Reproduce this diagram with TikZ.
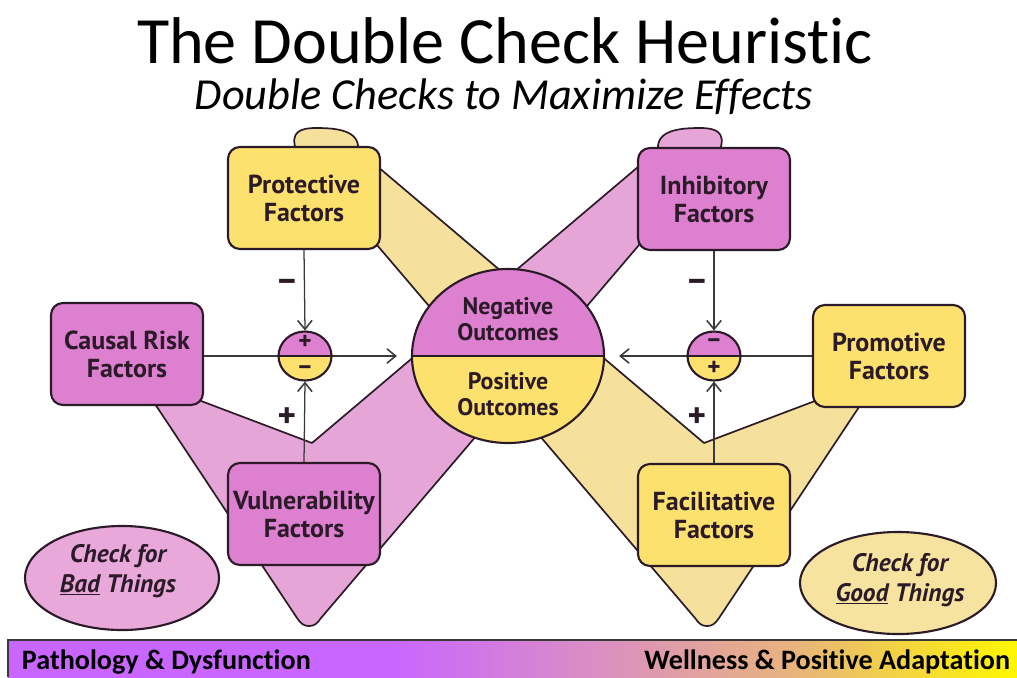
\documentclass[tikz,border=0pt]{standalone}
\usepackage{fontspec}
\setmainfont{Carlito}[Ligatures=NoCommon]
\newfontfamily\lblfont{PT Sans}
\usetikzlibrary{arrows.meta,shapes.geometric}

\definecolor{ink}{HTML}{2B1A28}
\definecolor{wire}{HTML}{3A3A3A}
\definecolor{magbox}{HTML}{DE80D0}
\definecolor{yelbox}{HTML}{FDE16E}
\definecolor{pinkband}{HTML}{E6A5D7}
\definecolor{yelband}{HTML}{F5E19B}
\definecolor{badoval}{HTML}{E8A8DA}
\definecolor{goodoval}{HTML}{F7E3A0}
\definecolor{barA}{HTML}{C966FF}
\definecolor{barB}{HTML}{DA8EC4}
\definecolor{barC}{HTML}{E8B47C}
\definecolor{barD}{HTML}{FFF700}
\pgfdeclarehorizontalshading{barshade}{100bp}{color(0bp)=(barA); color(25bp)=(barA); color(44bp)=(barA); color(54bp)=(barB); color(64bp)=(barC); color(75bp)=(barD); color(100bp)=(barD)}

\tikzset{
  factor/.style={draw=ink, line width=1.5pt, rounded corners=0.3cm, minimum width=3.8cm,
    minimum height=2.55cm, align=center, text=ink, font=\lblfont\bfseries\fontsize{18.5}{20}\selectfont},
  badbox/.style={factor, fill=magbox},
  goodbox/.style={factor, fill=yelbox},
  band/.style={draw=ink, line width=1.2pt, line join=round},
  conn/.style={draw=wire, line width=0.9pt, -{Straight Barb[length=2.2mm,width=3.6mm,line width=1.1pt]}},
  sign/.style={text=ink, inner sep=0pt, font=\lblfont\bfseries\fontsize{25}{25}\selectfont},
  insign/.style={text=ink, inner sep=0pt, font=\lblfont\bfseries\fontsize{18}{18}\selectfont},
  mixer/.style={ellipse, draw=ink, line width=1.5pt, minimum width=1.325cm, minimum height=1.225cm,
    inner sep=0pt, fill=yelbox, path picture={\fill[magbox] (path picture bounding box.north west) rectangle (path picture bounding box.east);}},
  ctext/.style={align=center, text=ink, font=\lblfont\bfseries\fontsize{17}{18.5}\selectfont},
  oval/.style={ellipse, draw=ink, line width=1.5pt},
  chk/.style={align=center, text=ink, font=\lblfont\bfseries\itshape\fontsize{18}{21}\selectfont},
  bartext/.style={text=black, font=\bfseries\fontsize{20}{20}\selectfont},
}

\begin{document}
\begin{tikzpicture}[x=0.025cm, y=-0.025cm]
    \useasboundingbox (0,0) rectangle (1017,677);

    % Titre
    \node[inner sep=0pt, font=\fontsize{47}{50}\selectfont] (title) at (505,41) {The Double Check Heuristic};
    \node[inner sep=0pt, font=\itshape\fontsize{31.5}{33}\selectfont] (subtitle) at (504,97) {Double Checks to Maximize Effects};

    % Bandes (V rose, V jaune)
    \draw[band, fill=pinkband] (139,380) -- (157,407) -- (297,618) .. controls (301,624) and (304,626) .. (309,626)
        .. controls (314,626) and (317,624) .. (321,618) -- (720,150) .. controls (726,132) and (716,128) .. (700,128)
        .. controls (680,128) and (656,130) .. (658,150) -- (312,443) -- (180,393) -- cycle;
    \draw[band, fill=yelband] (877,380) -- (859,407) -- (719,618) .. controls (715,624) and (712,626) .. (707,626)
        .. controls (702,626) and (699,624) .. (695,618) -- (296,150) .. controls (290,132) and (300,128) .. (316,128)
        .. controls (336,128) and (360,130) .. (358,150) -- (704,443) -- (836,393) -- cycle;

    % Ovales
    \node[oval, fill=badoval, minimum width=4.85cm, minimum height=2.6cm] (badoval) at (122,578) {};
    \node[chk] (badtxt) at (118,571) {Check for\\\underline{Bad} Things};
    \node[oval, fill=goodoval, minimum width=4.9cm, minimum height=2.55cm] (goodoval) at (898,583) {};
    \node[chk] (goodtxt) at (900,580) {Check for\\\underline{Good} Things};

    % Facteurs
    \node[goodbox] (protect) at (304,198) {Protective\\Factors};
    \node[badbox] (inhib) at (714,199) {Inhibitory\\Factors};
    \node[badbox] (causal) at (127,354) {Causal Risk\\Factors};
    \node[goodbox] (promo) at (889,356) {Promotive\\Factors};
    \node[badbox] (vulner) at (304,514) {Vulnerability\\Factors};
    \node[goodbox] (facil) at (714,515) {Facilitative\\Factors};

    % Cercle central
    \node[ellipse, draw=ink, line width=1.5pt, minimum width=4.8cm, minimum height=4.35cm, fill=yelbox,
        path picture={\fill[magbox] (path picture bounding box.north west) rectangle (path picture bounding box.east);}] (outc) at (508,356) {};
    \draw[ink, line width=1.5pt] (outc.west) -- (outc.east);
    \node[ctext] (neg) at (508,319) {Negative\\Outcomes};
    \node[ctext] (pos) at (508,394) {Positive\\Outcomes};

    % Fleches
    \draw[conn, shorten >=0.35cm] (causal.east |- outc) -- (outc.west);
    \draw[conn, shorten >=0.35cm] (promo.west |- outc) -- (outc.east);

    \node[mixer] (lmix) at (305,356) {};
    \node[mixer] (rmix) at (714,356) {};
    \draw[ink, line width=1.3pt] (lmix.west) -- (lmix.east);
    \draw[ink, line width=1.3pt] (rmix.west) -- (rmix.east);
    \node[insign] (lplus) at (305,342) {+};
    \node[insign] (lminus) at (305,370) {–};
    \node[insign] (rminus) at (714,343) {–};
    \node[insign] (rplus) at (714,368) {+};

    \draw[conn] (protect.south) -- (lmix.north);
    \draw[conn] (vulner.north) -- (lmix.south);
    \draw[conn] (inhib.south) -- (rmix.north);
    \draw[conn] (facil.north) -- (rmix.south);
    \node[sign] (pm1) at (287,285) {–};
    \node[sign] (pp1) at (287,418) {+};
    \node[sign] (pm2) at (697,285) {–};
    \node[sign] (pp2) at (697,418) {+};

    % Barre du bas
    \shade[shading=barshade] (8,640) rectangle (1017,677);
    \draw[wire, line width=1pt] (8,677) -- (8,640) -- (1017,640);
    \node[bartext, anchor=west] (patho) at (17,662) {Pathology \& Dysfunction};
    \node[bartext, anchor=east] (well) at (1015,662) {Wellness \& Positive Adaptation};
\end{tikzpicture}
\end{document}
